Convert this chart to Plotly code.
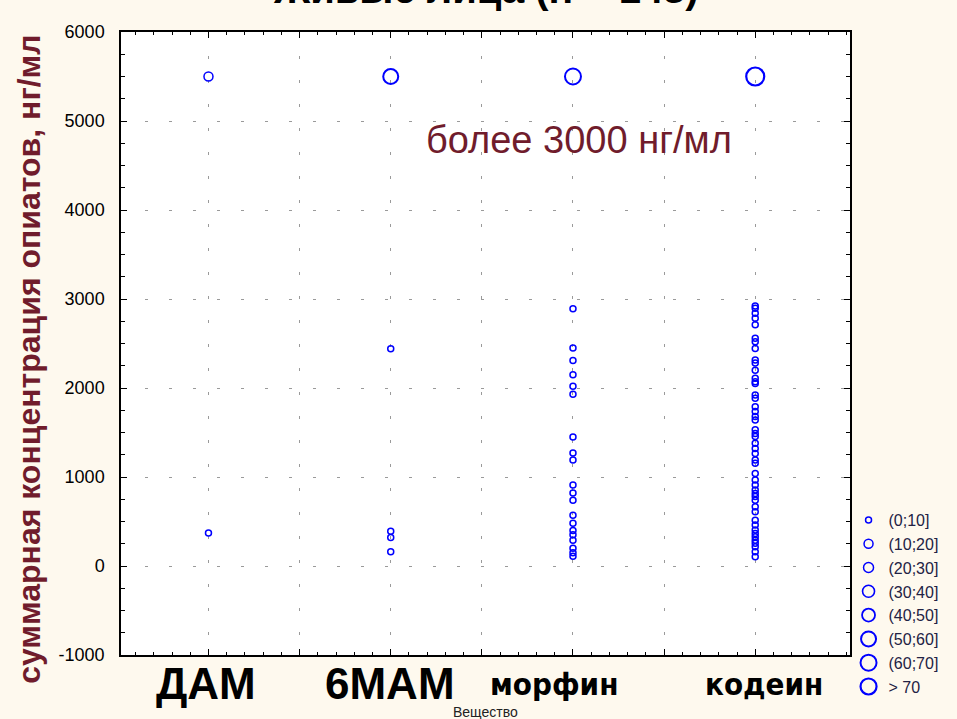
import plotly.graph_objects as go

# ---------------- data ----------------
categories = ["ДАМ", "6МАМ", "морфин", "кодеин"]
bins = ["(0;10]", "(10;20]", "(20;30]", "(30;40]", "(40;50]", "(50;60]", "(60;70]", "> 70"]

dam_values = [370]
mam_values = [2440, 390, 320, 160]
morphine_values = [2890, 2450, 2310, 2150, 2020, 1930, 1450, 1270, 1190, 910,
                   820, 740, 570, 480, 400, 350, 290, 200, 150, 110]
codeine_values = [2920, 2895, 2840, 2785, 2710, 2560, 2520, 2445, 2315, 2280,
                  2200, 2110, 2070, 2050, 1920, 1885, 1790, 1735, 1680, 1640,
                  1530, 1490, 1455, 1380, 1320, 1265, 1190, 1155, 1040, 965,
                  910, 855, 815, 780, 740, 665, 610, 515, 460, 405,
                  365, 330, 290, 255, 215, 160, 105]
low_values = [dam_values, mam_values, morphine_values, codeine_values]
low_bin = "(0;10]"

over_value = 5500          # position of the "более 3000 нг/мл" group
over_bins = ["(10;20]", "(50;60]", "(60;70]", "> 70"]

title_text = "Живые лица (n = 143)"
note_text = "более 3000 нг/мл"
x_title = "Вещество"
y_title = "суммарная концентрация опиатов, нг/мл"
y_ticks = [-1000, 0, 1000, 2000, 3000, 4000, 5000, 6000]

# ---------------- styles ----------------
marker_sizes = [6, 9, 10, 12, 13, 15, 16, 18]
marker_widths = [1.5, 1.5, 1.5, 1.6, 1.8, 2.0, 2.0, 2.2]
blue = "#0000FF"
maroon = "#701C2C"
label_sizes = [44, 44, 31, 31]
label_fonts = ["Liberation Sans, Arial", "Liberation Sans, Arial",
               "DejaVu Sans Condensed, Liberation Sans, Arial",
               "DejaVu Sans Condensed, Liberation Sans, Arial"]
label_shift = [-2, -1, -19, 9]

# ---------------- assemble points per bin ----------------
pts = {b: ([], []) for b in bins}
for i, cat in enumerate(categories):
    for v in low_values[i]:
        pts[low_bin][0].append(i)
        pts[low_bin][1].append(v)
    pts[over_bins[i]][0].append(i)
    pts[over_bins[i]][1].append(over_value)

fig = go.Figure()
for k, b in enumerate(bins):
    xs, ys = pts[b]
    if not xs:
        xs, ys = [None], [None]
    fig.add_trace(go.Scatter(
        x=xs, y=ys, mode="markers", name=b, legendgroup=b,
        marker=dict(symbol="circle-open", size=marker_sizes[k], color=blue,
                    line=dict(color=blue, width=marker_widths[k])),
        showlegend=True,
    ))

grid_dash = "3px,21px"
fig.update_xaxes(
    range=[-0.48, 3.52],
    tickmode="array",
    tickvals=[i * 0.5 for i in range(2 * len(categories) - 1)],
    ticktext=["" for _ in range(2 * len(categories) - 1)],
    ticks="inside", ticklen=6, tickcolor="black",
    minor=dict(dtick=0.1, tick0=0, ticks="inside", ticklen=3, tickcolor="black", showgrid=False),
    showgrid=True, gridcolor="#9a9a9a", griddash=grid_dash, gridwidth=1,
    showline=True, linecolor="black", linewidth=1.5, mirror="allticks",
    zeroline=False,
)
fig.update_yaxes(
    range=[-1000, 6000],
    tickmode="array", tickvals=y_ticks, ticktext=[str(t) for t in y_ticks],
    ticks="inside", ticklen=6, tickcolor="black",
    minor=dict(dtick=250, tick0=0, ticks="inside", ticklen=4, tickcolor="black", showgrid=False),
    showgrid=True, gridcolor="#9a9a9a", griddash=grid_dash, gridwidth=1,
    showline=True, linecolor="black", linewidth=1.5, mirror="allticks",
    zeroline=False,
    tickfont=dict(family="Liberation Sans, Arial", size=18, color="black"),
    ticklabelstandoff=11,
)

annotations = []
for i, cat in enumerate(categories):
    annotations.append(dict(
        x=i, y=-0.046, xref="x", yref="paper", text=f"<b>{cat}</b>", showarrow=False,
        xanchor="center", yanchor="middle", xshift=label_shift[i],
        font=dict(family=label_fonts[i], size=label_sizes[i], color="black"),
    ))
annotations.append(dict(
    x=0.5, y=-0.091, xref="paper", yref="paper", text=x_title, showarrow=False,
    xanchor="center", yanchor="middle",
    font=dict(family="Liberation Sans, Arial", size=14, color="#222222"),
))
annotations.append(dict(
    x=-0.126, y=0.474, xref="paper", yref="paper", text=f"<b>{y_title}</b>", showarrow=False,
    textangle=-90, xanchor="center", yanchor="middle",
    font=dict(family="Liberation Sans, Arial", size=32, color=maroon),
))
annotations.append(dict(
    x=0.5, y=1.03, xref="paper", yref="paper", text=f"<b>{title_text}</b>", showarrow=False,
    xanchor="center", yanchor="bottom",
    font=dict(family="Liberation Sans, Arial", size=40, color="black"),
))
annotations.append(dict(
    x=2.0, y=4790, xref="x", yref="y", text=note_text, showarrow=False,
    xanchor="center", yanchor="middle", xshift=6,
    font=dict(family="Liberation Sans, Arial", size=38, color=maroon),
))

fig.update_layout(
    width=957, height=719,
    margin=dict(l=121, r=107, t=32, b=64),
    paper_bgcolor="#FEF9EE",
    plot_bgcolor="white",
    annotations=annotations,
    legend=dict(
        x=0.998, y=0.244, xanchor="left", yanchor="top",
        font=dict(family="Liberation Sans, Arial", size=16, color="#222244"),
        itemsizing="trace", tracegroupgap=0, bgcolor="rgba(0,0,0,0)",
        itemwidth=30,
    ),
)

fig.write_html("out.html")
